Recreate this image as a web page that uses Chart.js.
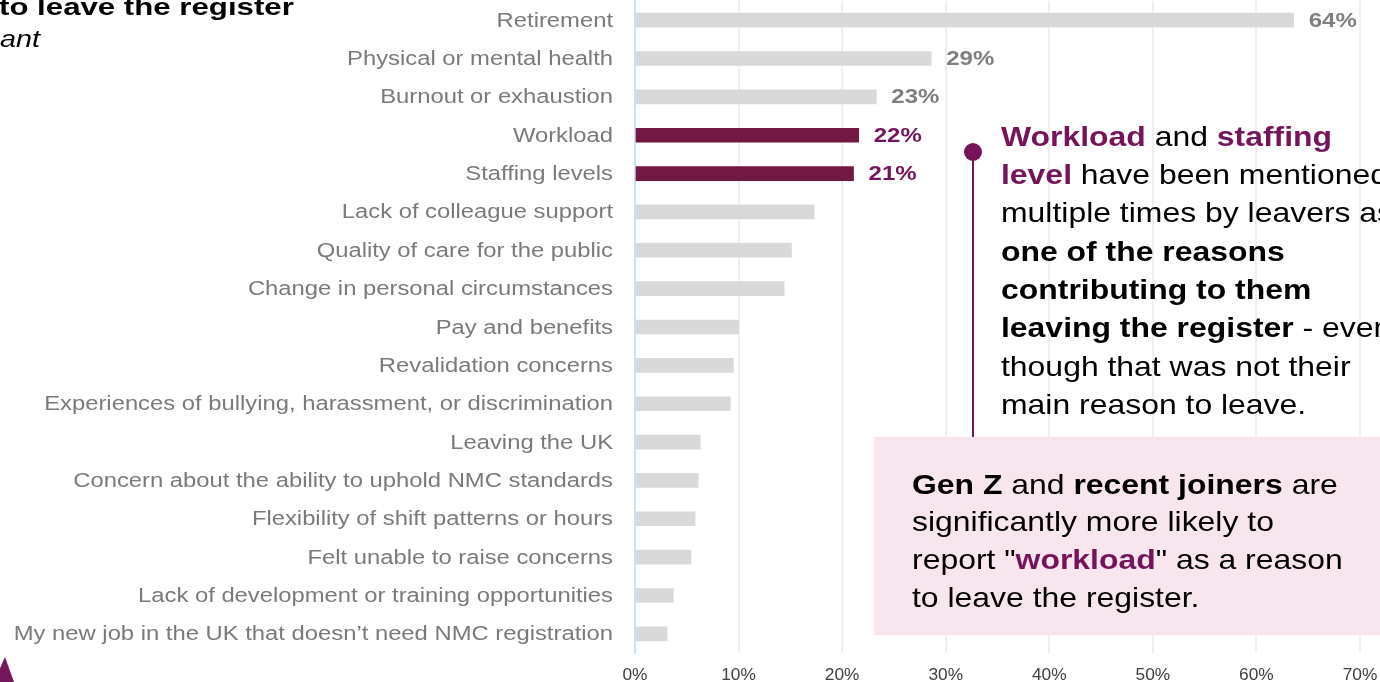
<!DOCTYPE html>
<html>
<head>
<meta charset="utf-8">
<script src="https://cdn.jsdelivr.net/npm/chart.js@4.4.1/dist/chart.umd.min.js"></script>
<style>
  html, body { margin: 0; padding: 0; background: #fff; }
  #wrap { width: 1380px; height: 682px; position: relative; overflow: hidden; }
</style>
</head>
<body>
<div id="wrap"><canvas id="reasonsChart" width="1380" height="682"></canvas></div>
<script>
// reasons for leaving, share of leavers (%)
const reasons = [
  'Retirement',
  'Physical or mental health',
  'Burnout or exhaustion',
  'Workload',
  'Staffing levels',
  'Lack of colleague support',
  'Quality of care for the public',
  'Change in personal circumstances',
  'Pay and benefits',
  'Revalidation concerns',
  'Experiences of bullying, harassment, or discrimination',
  'Leaving the UK',
  'Concern about the ability to uphold NMC standards',
  'Flexibility of shift patterns or hours',
  'Felt unable to raise concerns',
  'Lack of development or training opportunities',
  'My new job in the UK that doesn\u2019t need NMC registration'
];
const shares = [63.6, 28.6, 23.3, 21.6, 21.1, 17.3, 15.1, 14.4, 10.0, 9.5, 9.2, 6.3, 6.1, 5.8, 5.4, 3.7, 3.1];
const highlighted = ['Workload', 'Staffing levels'];
const labelled = ['Retirement', 'Physical or mental health', 'Burnout or exhaustion', 'Workload', 'Staffing levels'];
const axisMax = 70;
const axisStep = 10;

const FONT = "'Liberation Sans', Arial, sans-serif";
const PURPLE = '#74145a';
const BAR_PURPLE = '#731843';
const GREY_BAR = '#d9d9d9';

// draw text squeezed/stretched horizontally by sx
function drawText(ctx, text, x, y, font, color, sx, align, baseline) {
  ctx.save();
  ctx.font = font;
  ctx.fillStyle = color;
  ctx.textBaseline = baseline || 'middle';
  ctx.textAlign = 'left';
  const w = ctx.measureText(text).width * sx;
  let left = x;
  if (align === 'right') left = x - w;
  else if (align === 'center') left = x - w / 2;
  ctx.translate(left, y);
  ctx.scale(sx, 1);
  ctx.fillText(text, 0, 0);
  ctx.restore();
  return w;
}

// one line made of several runs: [text, bold, colour]
function drawRuns(ctx, runs, x, y, size, sx) {
  let cx = x;
  runs.forEach(([t, bold, color]) => {
    const font = (bold ? 'bold ' : '') + size + 'px ' + FONT;
    cx += drawText(ctx, t, cx, y, font, color || '#000', sx, 'left');
  });
}

const noteLines = [
  [['Workload', true, PURPLE], [' and ', false], ['staffing', true, PURPLE]],
  [['level', true, PURPLE], [' have been mentioned', false]],
  [['multiple times by leavers as', false]],
  [['one of the reasons', true]],
  [['contributing to them', true]],
  [['leaving the register', true], [' - even', false]],
  [['though that was not their', false]],
  [['main reason to leave.', false]]
];
const boxLines = [
  [['Gen Z', true], [' and ', false], ['recent joiners', true], [' are', false]],
  [['significantly more likely to', false]],
  [['report "', false], ['workload', true, PURPLE], ['" as a reason', false]],
  [['to leave the register.', false]]
];

const decorations = {
  id: 'decorations',
  afterDatasetsDraw(chart) {
    const ctx = chart.ctx;
    const meta = chart.getDatasetMeta(0);
    // value labels on the top bars
    reasons.forEach((r, i) => {
      if (!labelled.includes(r)) return;
      const bar = meta.data[i];
      const color = highlighted.includes(r) ? PURPLE : '#7f7f7f';
      drawText(ctx, Math.round(shares[i]) + '%', bar.x + 15, bar.y + 1, 'bold 20px ' + FONT, color, 1.2, 'left');
    });
  },
  afterDraw(chart) {
    const ctx = chart.ctx;
    const yScale = chart.scales.y;
    const xScale = chart.scales.x;

    // category labels
    reasons.forEach((r, i) => {
      drawText(ctx, r, yScale.right - 22, yScale.getPixelForValue(i) + 1, '20px ' + FONT, '#7a7a7a', 1.19, 'right');
    });

    // percentage ticks
    xScale.ticks.forEach(t => {
      drawText(ctx, t.value + '%', xScale.getPixelForValue(t.value), 675, '16.5px ' + FONT, '#404040', 1.05, 'center');
    });

    // callout pin
    ctx.save();
    ctx.strokeStyle = PURPLE;
    ctx.lineWidth = 2;
    ctx.beginPath();
    ctx.moveTo(973, 152);
    ctx.lineTo(973, 440);
    ctx.stroke();
    ctx.fillStyle = PURPLE;
    ctx.beginPath();
    ctx.arc(973, 152, 9, 0, Math.PI * 2);
    ctx.fill();
    ctx.restore();

    noteLines.forEach((runs, i) => drawRuns(ctx, runs, 1001, 138 + i * 38.3, 28, 1.14));

    // pink highlight box
    ctx.save();
    ctx.fillStyle = '#f8e6ef';
    ctx.fillRect(874, 437, 520, 198);
    ctx.restore();
    boxLines.forEach((runs, i) => drawRuns(ctx, runs, 912, 486 + i * 37.7, 28, 1.14));

    // slide heading fragments
    drawText(ctx, 'to leave the register', -1, 15, 'bold 24px ' + FONT, '#000', 1.3, 'left', 'alphabetic');
    drawText(ctx, 'ant', 0, 47, 'italic 23px ' + FONT, '#000', 1.25, 'left', 'alphabetic');

    // corner marker
    ctx.save();
    ctx.fillStyle = '#72175a';
    ctx.beginPath();
    ctx.moveTo(5, 657);
    ctx.lineTo(14, 682);
    ctx.lineTo(-6, 682);
    ctx.closePath();
    ctx.fill();
    ctx.restore();
  }
};

new Chart(document.getElementById('reasonsChart'), {
  type: 'bar',
  data: {
    labels: reasons,
    datasets: [{
      data: shares,
      backgroundColor: reasons.map(r => highlighted.includes(r) ? BAR_PURPLE : GREY_BAR),
      barThickness: 14,
      borderWidth: 0
    }]
  },
  options: {
    indexAxis: 'y',
    responsive: false,
    animation: false,
    layout: { padding: { top: 1, right: 20, bottom: 0, left: 0 } },
    plugins: { legend: { display: false }, tooltip: { enabled: false } },
    scales: {
      x: {
        min: 0,
        max: axisMax,
        ticks: { stepSize: axisStep, display: false },
        grid: { color: '#efefef', lineWidth: 2, drawTicks: false },
        border: { display: false },
        afterFit: s => { s.height = 29; }
      },
      y: {
        ticks: { display: false },
        grid: { display: false, drawTicks: false },
        border: { color: '#c9e4f8', width: 2 },
        afterFit: s => { s.width = 635; }
      }
    }
  },
  plugins: [decorations]
});
</script>
</body>
</html>
